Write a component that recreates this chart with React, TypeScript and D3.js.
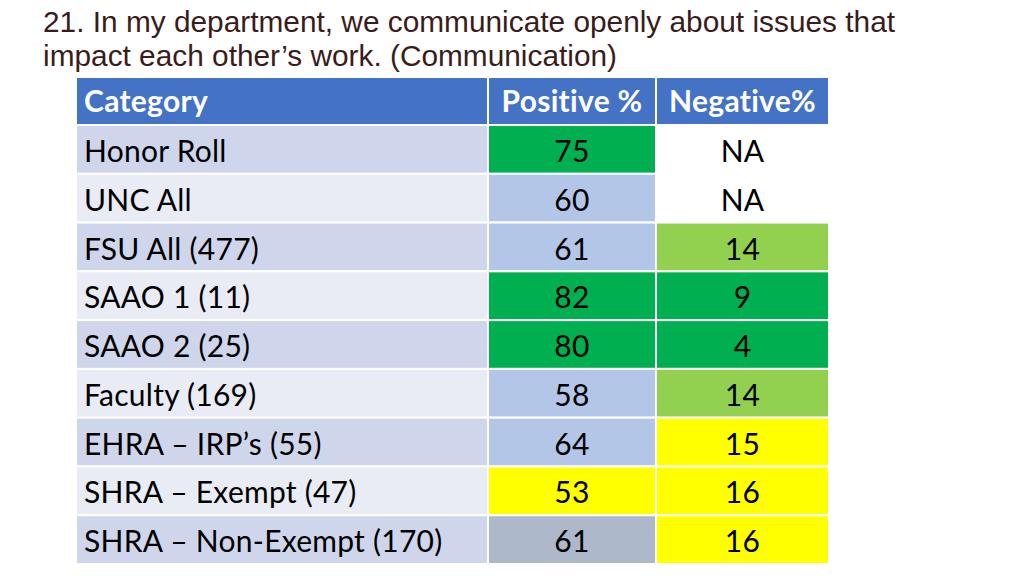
import React from "react";
import * as d3 from "d3";

const titleLines = [
  "21. In my department, we communicate openly about issues that",
  "impact each other\u2019s work. (Communication)",
];
const titleWidths = [852, 574];
const headers = ["Category", "Positive %", "Negative%"];
const categories = [
  "Honor Roll",
  "UNC All",
  "FSU All (477)",
  "SAAO 1 (11)",
  "SAAO 2 (25)",
  "Faculty (169)",
  "EHRA \u2013 IRP\u2019s (55)",
  "SHRA \u2013 Exempt (47)",
  "SHRA \u2013 Non-Exempt (170)",
];
const positive = ["75", "60", "61", "82", "80", "58", "64", "53", "61"];
const negative = ["NA", "NA", "14", "9", "4", "14", "15", "16", "16"];
const positiveColors = ["#00B050", "#B4C6E7", "#B4C6E7", "#00B050", "#00B050", "#B4C6E7", "#B4C6E7", "#FFFF00", "#ADB9CA"];
const negativeColors = ["#FFFFFF", "#FFFFFF", "#92D050", "#00B050", "#00B050", "#92D050", "#FFFF00", "#FFFF00", "#FFFF00"];
const categoryColors = ["#CFD5EA", "#E9EBF5"];

export default function App() {
  const W = 1024, H = 576;
  const colEdges = [76, 488, 656, 829];
  const top = 77, headerH = 48;
  const rowY = d3.scaleBand<number>().domain(d3.range(categories.length)).range([125, 564]).paddingInner(0);
  const font = "Lato, 'Open Sans', sans-serif";
  const fs = 30;
  return (
    <svg width={W} height={H} style={{ position: "absolute", left: 0, top: 0, background: "#fff" }}>
      {titleLines.map((t, i) => (
        <text key={i} x={43} y={32 + i * 34} textLength={titleWidths[i]} lengthAdjust="spacingAndGlyphs"
          fontFamily="'Liberation Sans', Arial, sans-serif" fontSize={29.5} fill="#3A1C1C">{t}</text>
      ))}
      {headers.map((h, i) => (
        <g key={h}>
          <rect x={colEdges[i]} y={top} width={colEdges[i + 1] - colEdges[i]} height={headerH} fill="#4472C4" stroke="#fff" strokeWidth={2} />
          <text x={i === 0 ? colEdges[i] + 8 : (colEdges[i] + colEdges[i + 1]) / 2} y={top + 35} textAnchor={i === 0 ? "start" : "middle"}
            fontFamily={font} fontWeight="bold" fontSize={fs} letterSpacing={0.3} fill="#fff">{h}</text>
        </g>
      ))}
      {categories.map((c, r) => {
        const y = rowY(r)!;
        const h = rowY.bandwidth();
        const cells = [
          { t: c, fill: categoryColors[r % 2] },
          { t: positive[r], fill: positiveColors[r] },
          { t: negative[r], fill: negativeColors[r] },
        ];
        return (
          <g key={c}>
            {cells.map((cell, i) => (
              <g key={i}>
                <rect x={colEdges[i]} y={y} width={colEdges[i + 1] - colEdges[i]} height={h} fill={cell.fill} stroke="#fff" strokeWidth={2} />
                <text x={i === 0 ? colEdges[i] + 8 : (colEdges[i] + colEdges[i + 1]) / 2} y={y + 37} textAnchor={i === 0 ? "start" : "middle"}
                  fontFamily={font} fontSize={fs} letterSpacing={0.25} fill="#000">{cell.t}</text>
              </g>
            ))}
          </g>
        );
      })}
    </svg>
  );
}
